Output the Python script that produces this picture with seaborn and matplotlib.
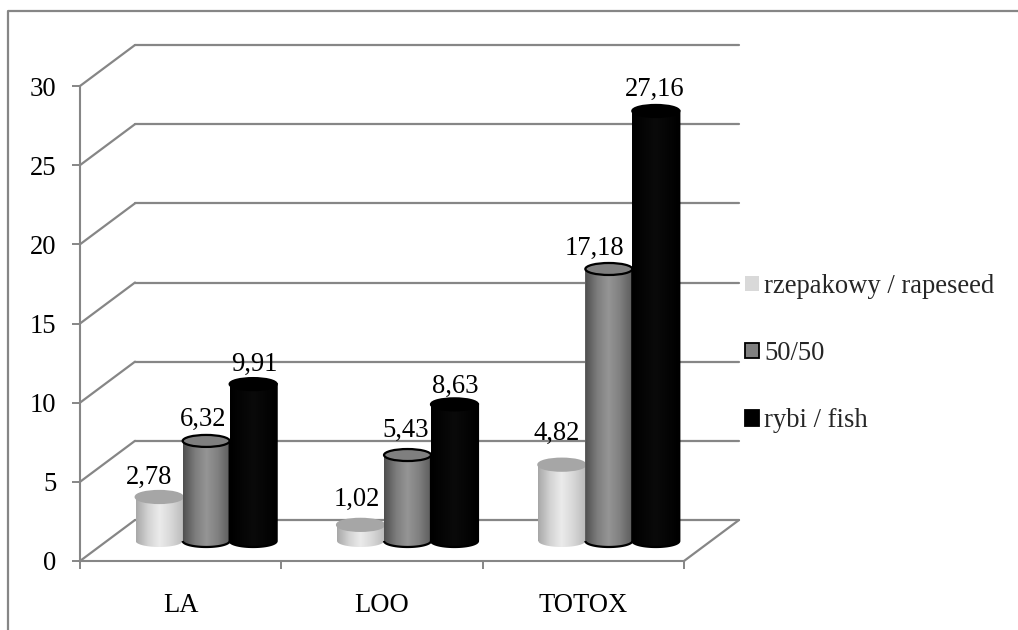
import numpy as np
import pandas as pd
import matplotlib
matplotlib.use("Agg")
import matplotlib.pyplot as plt
import seaborn as sns
from matplotlib.colors import LinearSegmentedColormap
from matplotlib.lines import Line2D
from matplotlib.patches import Ellipse, Patch, PathPatch
from matplotlib.path import Path
from matplotlib.transforms import IdentityTransform

categories = ["LA", "LOO", "TOTOX"]
series_names = ["rzepakowy / rapeseed", "50/50", "rybi / fish"]
rapeseed = [2.78, 1.02, 4.82]
mixed = [6.32, 5.43, 17.18]
fish = [9.91, 8.63, 27.16]
y_ticks = [0, 5, 10, 15, 20, 25, 30]

W, H = 1018, 630
GREY = "#868686"
LEFT, RIGHT, Y0, Y30 = 80, 684, 561, 86
FONT = 19.2

# body gradients (left to right), cap colour, outline colour
body_colours = [["#a9a9a9", "#d2d2d2", "#ebebeb", "#d8d8d8", "#bdbdbd"],
                ["#4f4f4f", "#7c7c7c", "#959595", "#808080", "#5e5e5e"],
                ["#000000", "#050505", "#0a0a0a", "#050505", "#000000"]]
cap_colours = ["#a6a6a6", "#7f7f7f", "#000000"]
edge_colours = [None, "#000000", "#000000"]
# hand placement of the data labels, pixels from the top of each bar
label_nudge = [[(-10, 20), (-4, 25), (-5, 31)],
               [(-3, 22), (-2, 25), (-14, 21)],
               [(1, 20), (1, 18), (-1, 22)]]

sns.set_theme(style="white")
plt.rcParams["font.family"] = ["Liberation Serif", "DejaVu Serif"]
plt.rcParams["font.size"] = FONT


def axes_at(dx=0, dy=0):
    # same size and scale as the front axes, moved by dx, dy pixels
    return fig.add_axes([(LEFT + dx) / W, (H - Y0 + dy) / H, (RIGHT - LEFT) / W, (Y0 - Y30) / H])


fig = plt.figure(figsize=(W / 100, H / 100), dpi=100, facecolor="white")

# back wall gridlines
ax_wall = axes_at(55, 41)
ax_wall.set_zorder(0)
ax_wall.set_xlim(-0.5, 2.5)
ax_wall.set_ylim(0, 30)
ax_wall.set_yticks(y_ticks)
ax_wall.set_xticks([])
ax_wall.tick_params(left=False, labelleft=False)
ax_wall.grid(axis="y", color=GREY, lw=1.6)
ax_wall.set_axisbelow(True)
sns.despine(ax=ax_wall, left=True, bottom=True)
ax_wall.patch.set_alpha(0)
for line in ax_wall.get_ygridlines():
    line.set_clip_on(False)

# front axes with the real ticks
ax = axes_at()
ax.set_zorder(1)
ax.patch.set_alpha(0)
ax.set_xlim(-0.5, 2.5)
ax.set_ylim(0, 30)
ax.set_yticks(y_ticks)
ax.set_xticks(range(len(categories)))
ax.set_xticklabels(categories)
ax.set_xticks([-0.5, 0.5, 1.5, 2.5], minor=True)
ax.tick_params(axis="y", left=True, length=5.8, width=1.4, color=GREY, pad=11, labelsize=FONT, labelcolor="black")
ax.tick_params(axis="x", which="major", bottom=False, pad=17, labelsize=FONT, labelcolor="black")
ax.tick_params(axis="x", which="minor", bottom=True, length=5.8, width=1.4, color=GREY)
sns.despine(ax=ax)
for side in ["left", "bottom"]:
    ax.spines[side].set_color(GREY)
    ax.spines[side].set_linewidth(1.5)

# bars sit on the floor, a bit behind the front edge
ax_bars = axes_at(25.5, 20)
ax_bars.set_zorder(2)
ax_bars.patch.set_alpha(0)

df = pd.DataFrame({
    "category": categories * 3,
    "series": np.repeat(series_names, 3),
    "value": rapeseed + mixed + fish,
})
sns.barplot(data=df, x="category", y="value", hue="series", hue_order=series_names,
            palette=cap_colours, width=0.7, legend=False, errorbar=None,
            edgecolor="none", linewidth=0, ax=ax_bars)

cap_h = 12 / ((Y0 - Y30) / 30)
t = np.linspace(np.pi, 2 * np.pi, 40)
for s, container in enumerate(ax_bars.containers):
    cmap = LinearSegmentedColormap.from_list(f"body{s}", body_colours[s])
    for c, bar in enumerate(container):
        bar.set_zorder(3 + s)
        x0, w, h = bar.get_x(), bar.get_width(), bar.get_height()
        cx = x0 + w / 2
        # body outline: sides and the lower half of the base ellipse
        xs = np.r_[cx + w / 2 * np.cos(t), x0 + w, x0]
        ys = np.r_[cap_h / 2 * np.sin(t), h, h]
        shape = PathPatch(Path(np.c_[xs, ys], closed=False), transform=ax_bars.transData,
                          facecolor="none", edgecolor=edge_colours[s] or "none",
                          lw=1.6, zorder=3.2 + s, clip_on=False)
        im = ax_bars.imshow(np.linspace(0, 1, 64)[None, :], cmap=cmap, aspect="auto",
                            extent=(x0, x0 + w, -cap_h, h), zorder=3.1 + s,
                            interpolation="bilinear")
        ax_bars.add_patch(shape)
        im.set_clip_box(fig.bbox)
        im.set_clip_path(PathPatch(Path(np.c_[xs, ys]), transform=ax_bars.transData))
        ax_bars.add_patch(Ellipse((cx, h), w, cap_h, facecolor=cap_colours[s],
                                  edgecolor=edge_colours[s] or cap_colours[s], lw=1.6,
                                  zorder=3.3 + s, clip_on=False))
        dx, dy = label_nudge[s][c]
        ax_bars.annotate(f"{h:.2f}".replace(".", ","), (cx, h), xytext=(dx * 0.72, dy * 0.72),
                         textcoords="offset points", ha="center", va="center",
                         fontsize=FONT, color="black", zorder=10, annotation_clip=False)

ax_bars.set_xlim(-0.5, 2.5)
ax_bars.set_ylim(0, 30)
ax_bars.axis("off")

# depth lines from the front axis to the back wall
fig.canvas.draw()
depth = [(-0.5, v) for v in y_ticks] + [(2.5, 0)]
for pt in depth:
    p0 = ax.transData.transform(pt)
    p1 = ax_wall.transData.transform(pt)
    fig.add_artist(Line2D([p0[0], p1[0]], [p0[1], p1[1]], color=GREY, lw=1.6,
                          transform=IdentityTransform()))

# outer chart border, open on the right and at the bottom
fig.add_artist(Line2D([8 / W, 8 / W, 1], [0, 1 - 11 / H, 1 - 11 / H], color=GREY, lw=1.6))

handles = [Patch(facecolor="#d9d9d9", edgecolor="none"),
           Patch(facecolor="#808080", edgecolor="black", lw=1.3),
           Patch(facecolor="black", edgecolor="black", lw=1.3)]
ax_bars.legend(handles, series_names, loc="upper left", bbox_to_anchor=(745 / W, 1 - 274 / H),
               bbox_transform=fig.transFigure, frameon=False, borderpad=0, borderaxespad=0,
               handlelength=0.52, handleheight=0.52, handletextpad=0.2, labelspacing=1.58,
               prop={"size": FONT})

fig.savefig("out.png", dpi=100)
